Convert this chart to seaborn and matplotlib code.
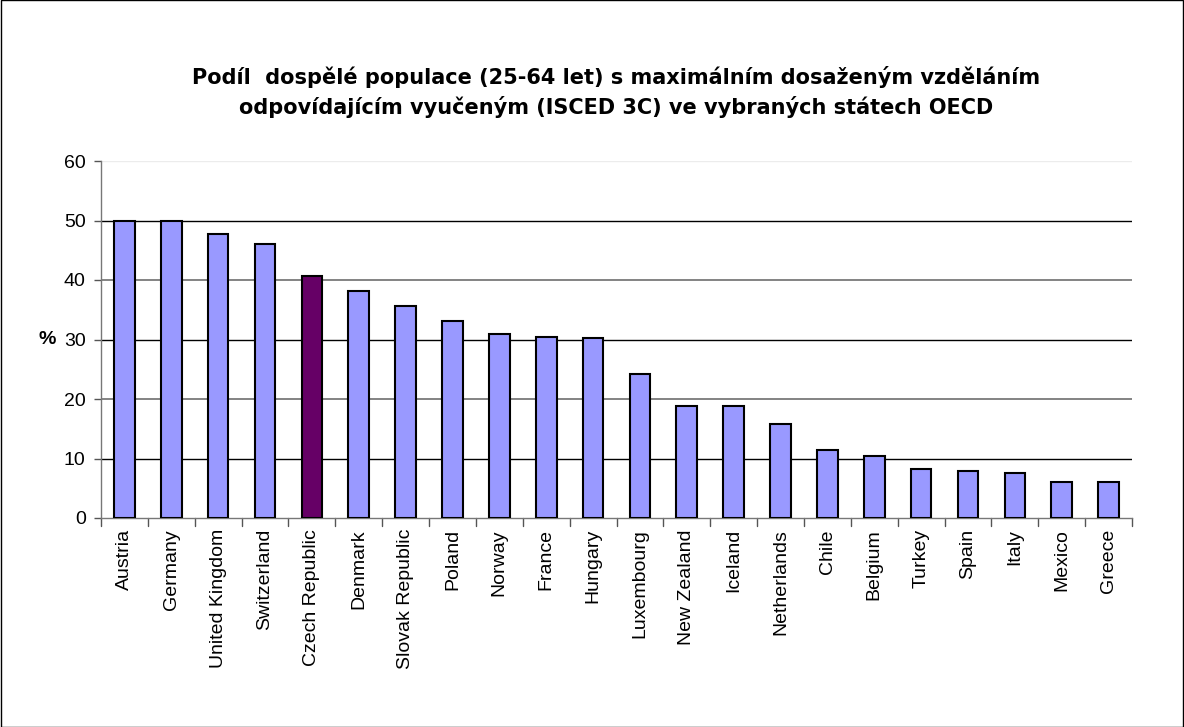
import matplotlib
matplotlib.use("Agg")
import matplotlib.pyplot as plt
import seaborn as sns
import pandas as pd
from matplotlib.patches import Rectangle

countries = ["Austria", "Germany", "United Kingdom", "Switzerland", "Czech Republic",
             "Denmark", "Slovak Republic", "Poland", "Norway", "France", "Hungary",
             "Luxembourg", "New Zealand", "Iceland", "Netherlands", "Chile", "Belgium",
             "Turkey", "Spain", "Italy", "Mexico", "Greece"]
values = [50.0, 50.0, 47.7, 46.1, 40.7, 38.2, 35.7, 33.1, 30.9, 30.5, 30.2,
          24.2, 18.8, 18.8, 15.8, 11.4, 10.5, 8.2, 7.9, 7.6, 6.0, 6.0]
yticks = [0, 10, 20, 30, 40, 50, 60]
title = ("Podíl  dospělé populace (25-64 let) s maximálním dosaženým vzděláním\n"
         "odpovídajícím vyučeným (ISCED 3C) ve vybraných státech OECD")

df = pd.DataFrame({"country": countries, "value": values})
highlight = "Czech Republic"
palette = {c: ("#660066" if c == highlight else "#9999FF") for c in countries}

sns.set_style("white")
plt.rcParams["font.family"] = ["Liberation Sans", "DejaVu Sans"]
plt.rcParams["text.color"] = "black"
plt.rcParams["xtick.color"] = "black"
plt.rcParams["ytick.color"] = "black"
plt.rcParams["axes.labelcolor"] = "black"

W, H = 1184, 727
fig = plt.figure(figsize=(W / 100, H / 100), dpi=100)
left, right, top, bottom = 101, 1132, 161, 518
ax = fig.add_axes([left / W, 1 - bottom / H, (right - left) / W, (bottom - top) / H])

sns.barplot(data=df, x="country", y="value", hue="country", palette=palette,
            width=0.44, edgecolor="black", linewidth=1.5, legend=False, ax=ax,
            saturation=1, zorder=3)

ax.set_ylim(0, 60)
ax.set_xlim(-0.5, len(countries) - 0.5)
ax.set_yticks(yticks)
ax.set_yticklabels([str(t) for t in yticks], fontsize=14)
for t in yticks[1:-1]:
    ax.axhline(t, color=("black" if t % 20 else "#7a7a7a"),
               linewidth=(1 if t % 20 else 1.3), zorder=1)
ax.axhline(60, color="#ececec", lw=1, zorder=1)

ax.set_xticks(range(len(countries)))
ax.set_xticklabels(countries, rotation=90, fontsize=14)
ax.tick_params(axis="x", length=0, pad=8)
for b in range(len(countries) + 1):
    ax.plot([b - 0.5, b - 0.5], [0, -1.3], color="#555555", lw=1,
            clip_on=False, zorder=2)
ax.tick_params(axis="y", length=5, color="#555555", width=1, direction="out",
               left=True, pad=6)

for s in ["top", "right"]:
    ax.spines[s].set_visible(False)
for s in ["left", "bottom"]:
    ax.spines[s].set_color("#777777")
    ax.spines[s].set_linewidth(1)

ax.set_xlabel("")
ax.set_ylabel("%", rotation=0, fontsize=14, fontweight="bold")
ax.yaxis.set_label_coords(-0.052, 0.5)
ax.yaxis.label.set_verticalalignment("center")

ax.set_title(title, fontsize=15, fontweight="bold", family=["DejaVu Sans"],
             pad=34, linespacing=1.45)

fig.patches.append(Rectangle((0.0005, 0.0005), 0.999, 0.999, transform=fig.transFigure,
                             fill=False, edgecolor="black", linewidth=1))

fig.savefig("out.png", dpi=100)
